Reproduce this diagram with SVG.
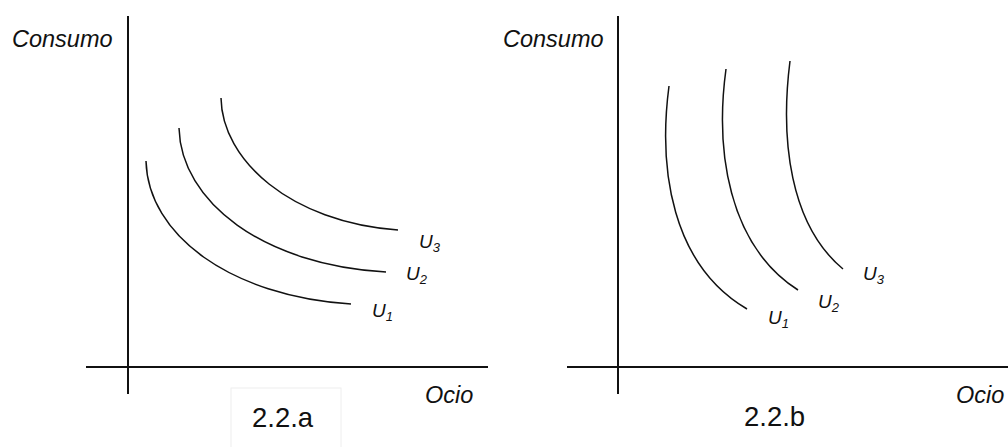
<svg xmlns="http://www.w3.org/2000/svg" width="1008" height="447" viewBox="0 0 1008 447">
<style>
.axis{stroke:#111;stroke-width:2;fill:none}
.curve{stroke:#111;stroke-width:1.5;fill:none}
.lbl{font-family:"Liberation Sans",Arial,sans-serif;font-style:italic;font-size:23.5px;fill:#111}
.u{font-family:"Liberation Sans",Arial,sans-serif;font-style:italic;font-size:19px;fill:#111}
.sub{font-size:13px}
.cap{font-family:"Liberation Sans",Arial,sans-serif;font-size:27.5px;fill:#111}
</style>
<rect width="1008" height="447" fill="#fff"/>
<g id="panel-a">
  <g id="axes-a">
    <line class="axis" x1="128" y1="16" x2="128" y2="394"/>
    <line class="axis" x1="86" y1="367" x2="488" y2="367"/>
    <text class="lbl" x="12" y="47">Consumo</text>
    <text class="lbl" x="425" y="403">Ocio</text>
  </g>
  <g id="curves-a">
    <path class="curve" d="M146,161 C148,235 230,296 351,304"/>
    <path class="curve" d="M179,128 C181,202 263,265 386,272"/>
    <path class="curve" d="M221,98 C222,160 290,222 398,230"/>
  </g>
  <g id="labels-a">
    <text class="u" x="372" y="317">U<tspan class="sub" dy="4">1</tspan></text>
    <text class="u" x="406" y="280">U<tspan class="sub" dy="4">2</tspan></text>
    <text class="u" x="419" y="248">U<tspan class="sub" dy="4">3</tspan></text>
  </g>
  <g id="caption-a">
    <rect x="231" y="388" width="110" height="62" fill="#fff" stroke="#eeeeee" stroke-width="1"/>
    <text class="cap" x="252" y="427">2.2.a</text>
  </g>
</g>
<g id="panel-b">
  <g id="axes-b">
    <line class="axis" x1="618" y1="16" x2="618" y2="394"/>
    <line class="axis" x1="567" y1="367" x2="1008" y2="367"/>
    <text class="lbl" x="503" y="47">Consumo</text>
    <text class="lbl" x="956" y="403">Ocio</text>
  </g>
  <g id="curves-b">
    <path class="curve" d="M669,86 C658,170 672,265 747,309"/>
    <path class="curve" d="M726,69 C715,150 728,245 798,290"/>
    <path class="curve" d="M790,61 C780,140 790,225 843,269"/>
  </g>
  <g id="labels-b">
    <text class="u" x="768" y="324">U<tspan class="sub" dy="4">1</tspan></text>
    <text class="u" x="818" y="308">U<tspan class="sub" dy="4">2</tspan></text>
    <text class="u" x="863" y="280">U<tspan class="sub" dy="4">3</tspan></text>
  </g>
  <g id="caption-b">
    <text class="cap" x="744" y="426">2.2.b</text>
  </g>
</g>
</svg>
